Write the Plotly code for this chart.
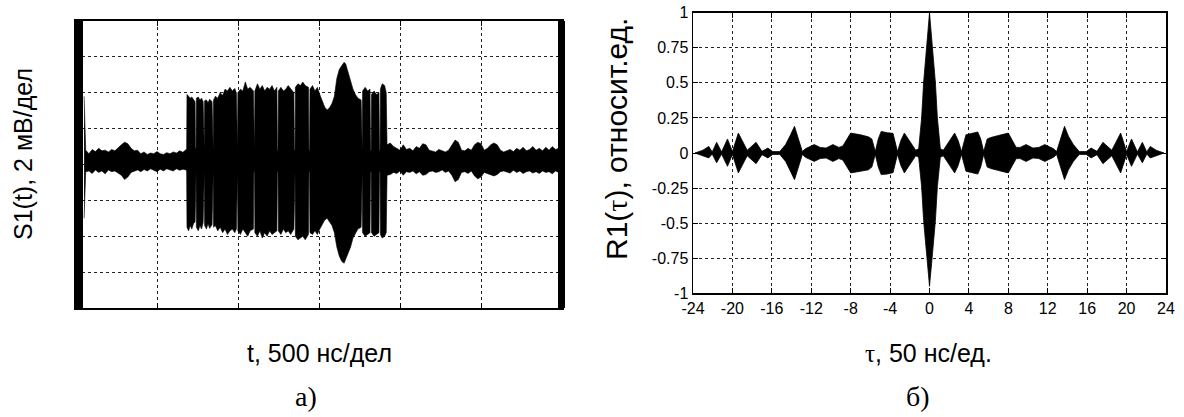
import plotly.graph_objects as go

# ---------------- Panel a): oscillogram envelope (x in divisions of 500 ns, y in divisions of 2 mV)
t_div = [0.10, 0.12, 0.16, 0.20, 0.24, 0.28, 0.32, 0.36, 0.40, 0.44, 0.48, 0.52, 0.56, 0.60, 0.64, 0.68,
         0.72, 0.76, 0.80, 0.84, 0.88, 0.92, 0.96, 1.00, 1.04, 1.08, 1.12, 1.16, 1.20, 1.24, 1.28, 1.32, 1.36,
         1.366, 1.370, 1.39, 1.41, 1.43, 1.45, 1.47, 1.474, 1.482,
         1.486, 1.51, 1.53, 1.55, 1.57, 1.576, 1.584,
         1.588, 1.61, 1.63, 1.65, 1.68, 1.686, 1.694,
         1.698, 1.72, 1.75, 1.78, 1.81, 1.84, 1.87, 1.90, 1.93, 1.96, 1.98, 1.986, 1.994,
         1.998, 2.03, 2.06, 2.09, 2.12, 2.15, 2.19, 2.196, 2.204,
         2.208, 2.24, 2.27, 2.30, 2.33, 2.36, 2.39, 2.42, 2.45, 2.48, 2.486, 2.494,
         2.498, 2.53, 2.56, 2.59, 2.62, 2.65, 2.69, 2.696, 2.704,
         2.708, 2.74, 2.77, 2.80, 2.83, 2.87, 2.876, 2.884,
         2.888, 2.92, 2.95, 2.98, 3.01, 3.04, 3.07, 3.10, 3.13, 3.16, 3.19, 3.22, 3.25, 3.28, 3.31, 3.33,
         3.36, 3.39, 3.42, 3.45, 3.48, 3.52, 3.526, 3.534,
         3.538, 3.57, 3.60, 3.63, 3.636, 3.644,
         3.648, 3.68, 3.71, 3.74, 3.746, 3.754,
         3.758, 3.78, 3.81, 3.83,
         3.84, 3.88, 3.92, 3.96, 4.00, 4.04, 4.08, 4.12, 4.16, 4.20, 4.24, 4.28, 4.32, 4.36, 4.40, 4.44,
         4.48, 4.52, 4.56, 4.60, 4.64, 4.68, 4.72, 4.76, 4.80, 4.84, 4.88, 4.92, 4.96, 5.00, 5.04, 5.08,
         5.12, 5.16, 5.20, 5.24, 5.28, 5.32, 5.36, 5.40, 5.44, 5.48, 5.52, 5.56, 5.60, 5.64, 5.68, 5.72,
         5.76, 5.80, 5.84, 5.88, 5.92, 5.96]

s_upper = [1.90, 0.40, 0.30, 0.42, 0.36, 0.45, 0.38, 0.40, 0.35, 0.42, 0.38, 0.48, 0.55, 0.62, 0.58, 0.45,
           0.38, 0.40, 0.30, 0.35, 0.28, 0.32, 0.30, 0.36, 0.30, 0.28, 0.33, 0.30, 0.35, 0.32, 0.38, 0.34, 0.42,
           0.40, 1.95, 1.90, 1.85, 1.88, 1.80, 1.75, 0.45, 0.45,
           1.85, 1.88, 1.80, 1.85, 1.75, 0.40, 0.40,
           1.78, 1.80, 1.72, 1.82, 1.75, 0.40, 0.40,
           1.80, 1.90, 1.85, 2.00, 1.92, 2.10, 2.05, 2.15, 2.05, 2.12, 2.00, 0.40, 0.40,
           2.00, 2.10, 2.05, 2.30, 2.10, 2.15, 2.05, 0.40, 0.40,
           2.05, 2.25, 2.10, 2.20, 2.05, 2.15, 2.10, 2.20, 2.05, 2.15, 0.40, 0.40,
           2.05, 2.15, 2.05, 2.10, 2.20, 2.10, 2.00, 0.40, 0.40,
           2.15, 2.25, 2.20, 2.30, 2.20, 2.15, 0.40, 0.40,
           2.10, 2.20, 2.05, 2.15, 1.95, 1.75, 1.60, 1.52, 1.58, 1.70, 1.90, 2.40, 2.65, 2.75, 2.85, 2.80,
           2.55, 2.35, 2.10, 1.95, 1.85, 1.80, 0.40, 0.40,
           2.05, 2.15, 2.05, 2.10, 0.40, 0.40,
           1.95, 2.05, 1.95, 2.00, 0.40, 0.40,
           2.10, 2.25, 2.20, 2.00,
           0.55, 0.60, 0.50, 0.45, 0.40, 0.55, 0.42, 0.45, 0.38, 0.50, 0.45, 0.58, 0.55, 0.40, 0.38, 0.35,
           0.42, 0.38, 0.35, 0.40, 0.55, 0.68, 0.62, 0.40, 0.38, 0.45, 0.40, 0.55, 0.62, 0.58, 0.40, 0.45,
           0.55, 0.60, 0.55, 0.40, 0.35, 0.38, 0.42, 0.36, 0.45, 0.40, 0.48, 0.38, 0.42, 0.50, 0.40, 0.45,
           0.38, 0.48, 0.40, 0.50, 0.42, 0.45]

s_lower = [-1.50, -0.20, -0.18, -0.25, -0.15, -0.22, -0.18, -0.26, -0.15, -0.20, -0.18, -0.25, -0.30, -0.42, -0.35, -0.22,
           -0.18, -0.15, -0.20, -0.14, -0.18, -0.12, -0.16, -0.20, -0.13, -0.18, -0.12, -0.15, -0.18, -0.12, -0.16, -0.13, -0.15,
           -0.20, -1.75, -1.85, -1.70, -1.80, -1.65, -1.60, -0.20, -0.20,
           -1.75, -1.85, -1.70, -1.80, -1.62, -0.20, -0.20,
           -1.70, -1.80, -1.65, -1.78, -1.68, -0.20, -0.20,
           -1.75, -1.70, -1.85, -1.75, -1.90, -1.80, -1.95, -1.85, -1.80, -1.90, -1.80, -0.20, -0.20,
           -1.85, -1.95, -1.80, -1.90, -2.00, -1.85, -1.80, -0.20, -0.20,
           -1.90, -2.00, -1.85, -2.05, -1.90, -2.00, -1.85, -1.95, -1.90, -1.85, -0.20, -0.20,
           -1.85, -1.95, -1.80, -1.90, -1.85, -1.95, -1.80, -0.20, -0.20,
           -2.00, -2.10, -2.05, -2.00, -2.10, -1.95, -0.20, -0.20,
           -1.90, -1.95, -1.85, -1.95, -1.80, -1.65, -1.55, -1.50, -1.60, -1.70, -1.90, -2.30, -2.55, -2.70, -2.75, -2.65,
           -2.50, -2.30, -2.05, -1.90, -1.80, -1.75, -0.20, -0.20,
           -1.90, -2.00, -1.95, -1.90, -0.20, -0.20,
           -1.90, -2.00, -1.95, -1.90, -0.20, -0.20,
           -1.95, -2.05, -2.00, -1.90,
           -0.30, -0.28, -0.22, -0.25, -0.18, -0.30, -0.20, -0.22, -0.18, -0.26, -0.20, -0.30, -0.28, -0.20, -0.18, -0.22,
           -0.20, -0.15, -0.22, -0.18, -0.30, -0.48, -0.42, -0.22, -0.20, -0.25, -0.18, -0.32, -0.40, -0.35, -0.22, -0.25,
           -0.30, -0.32, -0.28, -0.20, -0.18, -0.22, -0.24, -0.16, -0.22, -0.18, -0.25, -0.20, -0.18, -0.24, -0.20, -0.25,
           -0.18, -0.22, -0.20, -0.26, -0.18, -0.22]

# ---------------- Panel б): correlation function envelope
tau = [-23.8, -23.0, -22.4, -22.05, -21.6, -21.1, -20.5, -20.0, -19.4, -18.5, -17.6, -17.0, -16.4, -15.9, -15.2,
       -14.6, -14.1, -13.7, -13.3, -12.9, -12.6, -12.3, -11.7, -11.1, -10.5, -9.8, -9.2, -8.8, -8.4, -8.0, -7.0,
       -6.2, -5.85, -5.5, -5.2, -4.9, -4.3, -3.7, -3.25, -2.9, -2.55, -2.0, -1.4, -1.1, -0.8, -0.6, -0.3, 0.0,
       0.3, 0.6, 0.8, 1.1, 1.4, 2.0, 2.55, 2.9, 3.25, 3.7, 4.3, 4.9, 5.2, 5.5, 5.85, 6.2, 7.0, 8.0, 8.4, 8.8,
       9.2, 9.8, 10.5, 11.1, 11.7, 12.3, 12.6, 12.9, 13.3, 13.7, 14.1, 14.6, 15.2, 15.9, 16.4, 17.0, 17.6, 18.5,
       19.4, 20.0, 20.5, 21.1, 21.6, 22.05, 22.4, 23.0, 23.8]

r_upper = [0.0, 0.02, 0.047, 0.008, 0.076, 0.008, 0.10, 0.01, 0.142, 0.02, 0.076, 0.012, 0.035, 0.01, 0.01,
           0.06, 0.13, 0.19, 0.10, 0.01, 0.03, 0.04, 0.06, 0.04, 0.035, 0.06, 0.04, 0.05, 0.10, 0.142, 0.13,
           0.115, 0.10, 0.01, 0.10, 0.154, 0.145, 0.14, 0.01, 0.09, 0.142, 0.08, 0.02, 0.03, 0.25, 0.50, 0.75, 1.0,
           0.75, 0.50, 0.25, 0.03, 0.02, 0.08, 0.142, 0.09, 0.01, 0.13, 0.14, 0.15, 0.10, 0.01, 0.10, 0.11, 0.125,
           0.142, 0.09, 0.04, 0.04, 0.06, 0.035, 0.04, 0.06, 0.04, 0.03, 0.01, 0.10, 0.19, 0.12, 0.06, 0.01, 0.01,
           0.035, 0.012, 0.076, 0.02, 0.142, 0.01, 0.10, 0.008, 0.076, 0.008, 0.047, 0.02, 0.0]

r_lower = [0.0, -0.02, -0.035, -0.008, -0.07, -0.008, -0.095, -0.01, -0.142, -0.02, -0.076, -0.012, -0.035, -0.01, -0.01,
           -0.06, -0.13, -0.19, -0.10, -0.01, -0.03, -0.04, -0.06, -0.04, -0.035, -0.06, -0.04, -0.05, -0.10, -0.142, -0.13,
           -0.12, -0.10, -0.01, -0.10, -0.154, -0.15, -0.14, -0.01, -0.09, -0.142, -0.08, -0.02, -0.03, -0.24, -0.48, -0.72, -0.95,
           -0.72, -0.48, -0.24, -0.03, -0.02, -0.08, -0.142, -0.09, -0.01, -0.13, -0.14, -0.15, -0.10, -0.01, -0.10, -0.11, -0.125,
           -0.142, -0.09, -0.04, -0.04, -0.06, -0.035, -0.04, -0.06, -0.04, -0.03, -0.01, -0.10, -0.19, -0.12, -0.06, -0.01, -0.01,
           -0.035, -0.012, -0.076, -0.02, -0.142, -0.01, -0.095, -0.008, -0.07, -0.008, -0.035, -0.02, 0.0]

tau_ticks = [-24, -20, -16, -12, -8, -4, 0, 4, 8, 12, 16, 20, 24]
r_ticks = [-1, -0.75, -0.5, -0.25, 0, 0.25, 0.5, 0.75, 1]
r_tick_text = ["-1", "-0.75", "-0.5", "-0.25", "0", "0.25", "0.5", "0.75", "1"]
t_grid = [0, 1, 2, 3, 4, 5, 6]
s_grid = [-4, -3, -2, -1, 0, 1, 2, 3, 4]

W, H = 1184, 417
def px(x):
    return x / W
def py(y):
    return 1 - y / H

L_X0, L_X1, L_Y0, L_Y1 = 76, 562, 21, 308
R_X0, R_X1, R_Y0, R_Y1 = 693, 1166, 12.7, 293.3

FONT = "Liberation Sans, Arial, sans-serif"
SERIF = "Liberation Serif, Times New Roman, serif"

fig = go.Figure()

# panel a
fig.add_trace(go.Scatter(x=t_div, y=s_lower, mode="lines", line=dict(color="black", width=0.6),
                         xaxis="x", yaxis="y", showlegend=False, hoverinfo="skip"))
fig.add_trace(go.Scatter(x=t_div, y=s_upper, mode="lines", line=dict(color="black", width=0.6),
                         fill="tonexty", fillcolor="black",
                         xaxis="x", yaxis="y", showlegend=False, hoverinfo="skip"))
# panel б
fig.add_trace(go.Scatter(x=tau, y=r_lower, mode="lines", line=dict(color="black", width=0.8),
                         xaxis="x2", yaxis="y2", showlegend=False, hoverinfo="skip"))
fig.add_trace(go.Scatter(x=tau, y=r_upper, mode="lines", line=dict(color="black", width=0.8),
                         fill="tonexty", fillcolor="black",
                         xaxis="x2", yaxis="y2", showlegend=False, hoverinfo="skip"))

grid_common = dict(showgrid=True, gridcolor="#222222", gridwidth=1, griddash="dot",
                   zeroline=False, showline=True, linecolor="black", mirror="ticks",
                   ticks="inside", tickcolor="black", ticklen=5, automargin=False)

fig.update_layout(
    width=W, height=H, autosize=False,
    margin=dict(l=0, r=0, t=0, b=0, pad=0, autoexpand=False),
    paper_bgcolor="white", plot_bgcolor="white",
    xaxis=dict(domain=[px(L_X0), px(L_X1)], anchor="y", range=[0, 6], tickvals=t_grid,
               showticklabels=False, linewidth=2, **grid_common),
    yaxis=dict(domain=[py(L_Y1), py(L_Y0)], anchor="x", range=[-4, 4], tickvals=s_grid,
               showticklabels=False, linewidth=2, **grid_common),
    xaxis2=dict(domain=[px(R_X0), px(R_X1)], anchor="y2", range=[-24, 24], tickvals=tau_ticks,
                ticktext=[str(v) for v in tau_ticks], linewidth=1.5,
                tickfont=dict(family=FONT, size=16, color="black"),
                **grid_common),
    yaxis2=dict(domain=[py(R_Y1), py(R_Y0)], anchor="x2", range=[-1, 1], tickvals=r_ticks,
                ticktext=r_tick_text, linewidth=1.5,
                tickfont=dict(family=FONT, size=16, color="black"), **grid_common),
)

# thick vertical bars at the edges of the oscilloscope screen
fig.add_shape(type="rect", xref="paper", yref="paper", x0=px(76), x1=px(83), y0=py(L_Y1), y1=py(L_Y0),
              fillcolor="black", line=dict(width=0))
fig.add_shape(type="rect", xref="paper", yref="paper", x0=px(558), x1=px(565), y0=py(L_Y1), y1=py(L_Y0),
              fillcolor="black", line=dict(width=0))

def ann(text, x, y, size, family=FONT, angle=0):
    fig.add_annotation(text=text, x=px(x), y=py(y), xref="paper", yref="paper", showarrow=False,
                       xanchor="center", yanchor="middle", textangle=angle,
                       font=dict(family=family, size=size, color="black"))

TAU = '<span style="font-family:Liberation Serif">τ</span>'
ann("S1(t), 2 мВ/дел", 23, 154, 25, angle=-90)
ann("t, 500 нс/дел", 319, 353, 25)
ann("а)", 306, 396, 28, family=SERIF)
ann("R1(" + TAU + "), относит.ед.", 617, 139, 30, angle=-90)
ann(TAU + ", 50 нс/ед.", 928, 353, 25)
ann("б)", 918, 396, 28, family=SERIF)

# remove the browser's default 8 px body margin so the figure fills the window exactly
fig.write_html("out.html",
               config={"displayModeBar": False, "staticPlot": True},
               post_script="document.body.style.margin='0';document.body.style.overflow='hidden';")
